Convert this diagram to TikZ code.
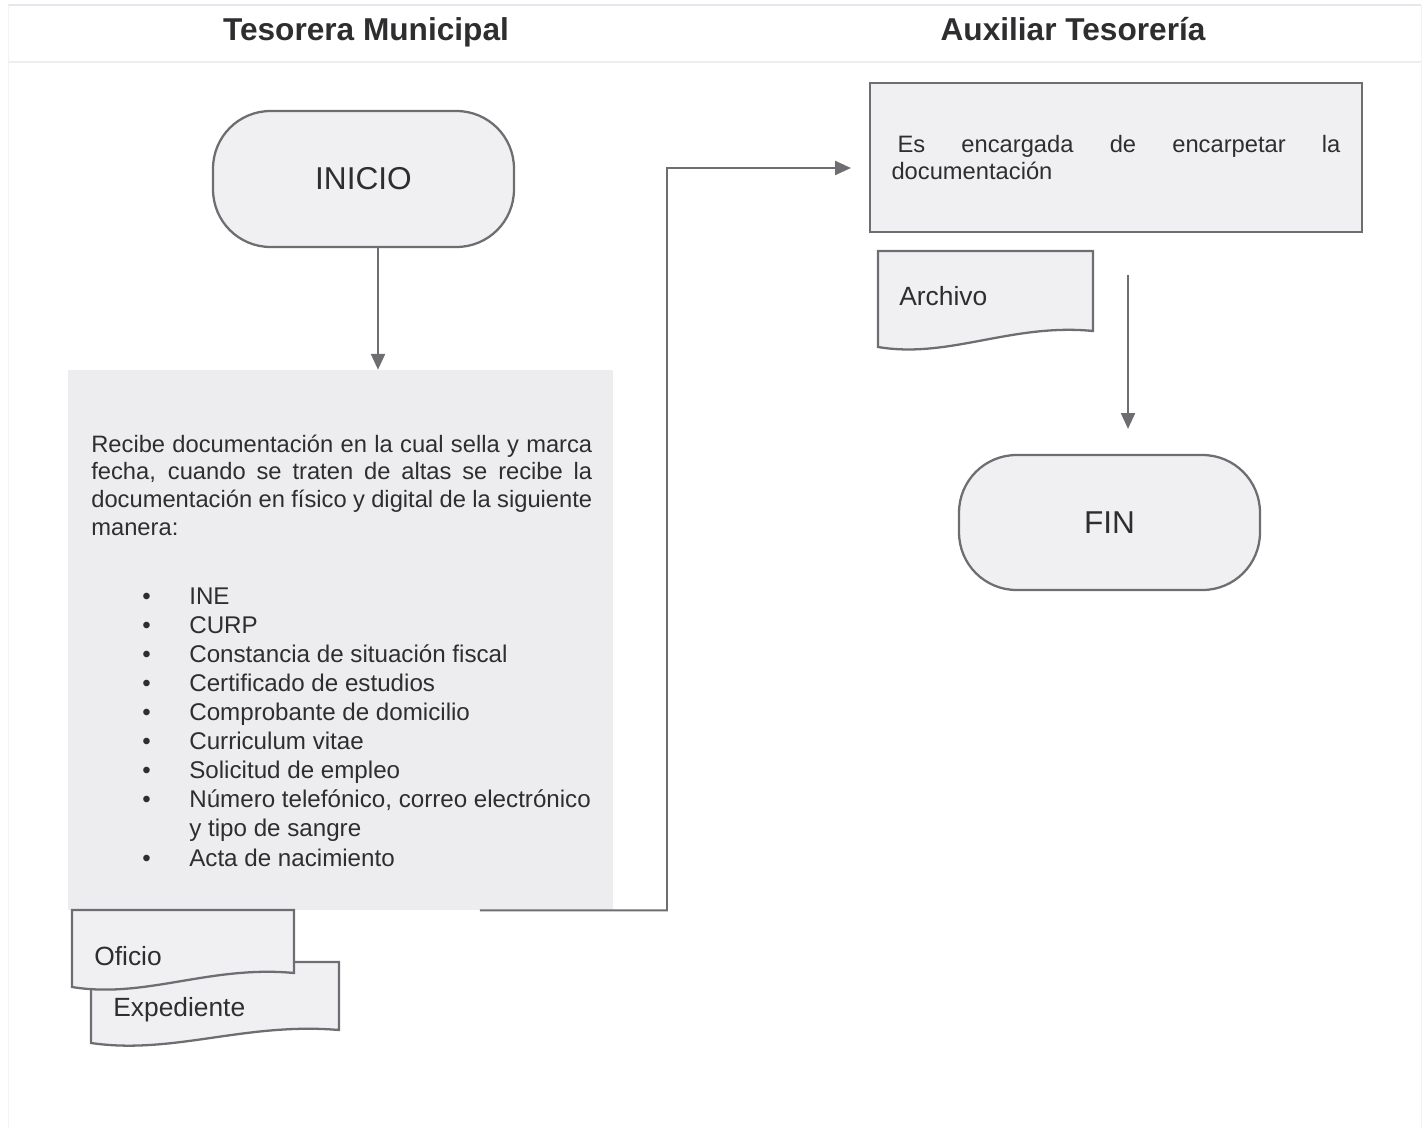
\documentclass[tikz,border=0pt]{standalone}
\usepackage{fontspec}
\setmainfont{Liberation Sans}
\usetikzlibrary{arrows.meta}
\definecolor{linegray}{HTML}{6E6E72}
\definecolor{boxfill}{HTML}{F0F0F2}
\definecolor{procfill}{HTML}{EDEDEF}
\definecolor{txt}{HTML}{2E2E30}
\definecolor{framec}{HTML}{E6E6EC}
\newcommand\mydocshape[5]{% x1, top, x2, y right bottom, y left bottom
  \pgfmathsetmacro\dw{#3-#1}%
  \pgfmathsetmacro\ca{#1+0.62*\dw}\pgfmathsetmacro\cb{#1+0.33*\dw}%
  \pgfmathsetmacro\cay{#4-8}\pgfmathsetmacro\cby{#5+12}%
  \filldraw[docstyle] (#1,#2) -- (#3,#2) -- (#3,#4) .. controls (\ca,\cay) and (\cb,\cby) .. (#1,#5) -- cycle;}
\newcommand\bul{\makebox[0.94cm][l]{•}}
\begin{document}
\begin{tikzpicture}[x=0.02cm,y=-0.02cm,
  every node/.style={text=txt},
  terminal/.style={draw=linegray, line width=1.3pt, fill=boxfill, rounded corners=1.15cm,
    minimum width=6.02cm, minimum height=2.72cm, font=\fontsize{18}{21}\selectfont},
  procbox/.style={fill=procfill, draw=none, inner sep=0pt},
  taskbox/.style={draw=linegray, line width=1.3pt, fill=boxfill, minimum width=9.84cm,
    minimum height=2.98cm, inner xsep=0pt, align=left,
    font=\fontsize{13.5}{15.9}\selectfont},
  docstyle/.style={draw=linegray, line width=1.3pt, fill=boxfill},
  doclabel/.style={anchor=base west, inner sep=0pt, font=\fontsize{15}{18}\selectfont},
  header/.style={anchor=base, inner sep=0pt, font=\fontsize{18}{21}\selectfont\bfseries},
  conn/.style={draw=linegray, line width=1.1pt, -{Triangle[width=8pt,length=9pt]}}
]
\useasboundingbox (0,0) rectangle (1425,1128);
% faint table frame
\draw[framec, line width=0.8pt] (8,5) -- (1421,5);
\draw[framec!70, line width=0.6pt] (8,62) -- (1421,62);
\draw[framec!50, line width=0.5pt] (8,5) -- (8,1128);
\draw[framec!50, line width=0.5pt] (1421,5) -- (1421,1128);
% headers
\node[header] (h1) at (366,41) {Tesorera Municipal};
\node[header] (h2) at (1073,41) {Auxiliar Tesorería};
% left lane
\node[terminal] (inicio) at (363.5,179) {INICIO};
\node[procbox, minimum width=10.9cm, minimum height=10.8cm] (proc) at (340.5,640) {};
\node[anchor=base west, inner sep=0pt, align=left, font=\fontsize{13.5}{15.7}\selectfont] (ptext) at (91,535)
  {\makebox[10.02cm][s]{Recibe documentación en la cual sella y marca}\\
   \makebox[10.02cm][s]{fecha, cuando se traten de altas se recibe la}\\
   \makebox[10.02cm][s]{documentación en físico y digital de la siguiente}\\
   manera:};
\node[anchor=base west, inner sep=0pt, align=left, font=\fontsize{13.75}{16.55}\selectfont] (plist) at (142,866)
  {\bul INE\\
   \bul CURP\\
   \bul Constancia de situación fiscal\\
   \bul Certificado de estudios\\
   \bul Comprobante de domicilio\\
   \bul Curriculum vitae\\
   \bul Solicitud de empleo\\
   \bul Número telefónico, correo electrónico\\
   \hspace*{0.94cm}y tipo de sangre\\
   \bul Acta de nacimiento};
\mydocshape{91}{962}{339}{1030}{1043}
\node[doclabel] (expediente) at (113,1016) {Expediente};
\mydocshape{72}{910}{294}{973}{987}
\node[doclabel] (oficio) at (94,965) {Oficio};
% right lane
\node[taskbox] (task) at (1116,157.5)
  {\makebox[8.98cm][s]{\hspace*{0.12cm}Es encargada de encarpetar la}\\documentación};
\mydocshape{878}{251}{1093}{331}{347}
\node[doclabel] (archivo) at (899,305) {Archivo};
\node[terminal, minimum height=2.7cm] (fin) at (1109.5,522.5) {FIN};
% connectors
\draw[conn] ([xshift=0.29cm]inicio.south) -- ([xshift=0.29cm]inicio.south |- proc.north);
\coordinate (pout) at ([xshift=2.79cm]proc.south);
\coordinate (bend) at (667,168);
\coordinate (tin) at ([yshift=-0.21cm]task.west);
\draw[conn, shorten >=0.36cm] (pout) -| (bend) -- (tin);
\coordinate (arcout) at (1128,275);
\draw[conn, shorten >=0.5cm] (arcout) -- (arcout |- fin.north);
\end{tikzpicture}
\end{document}
